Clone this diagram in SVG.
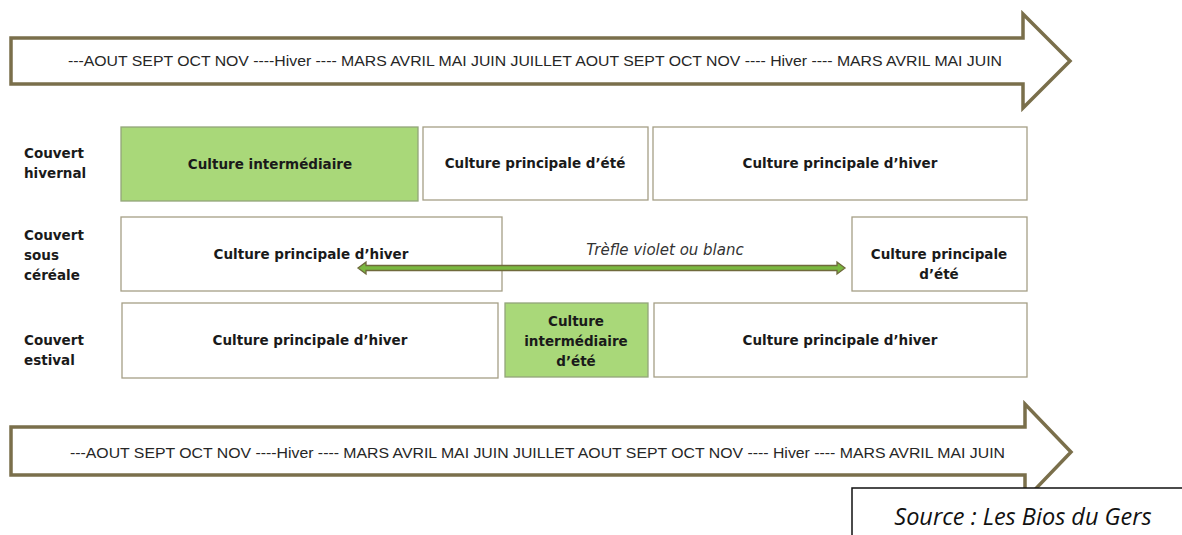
<svg xmlns="http://www.w3.org/2000/svg" width="1182" height="535" viewBox="0 0 1182 535">
<style>
.arrow{fill:#fff;stroke:#7a6f4b;stroke-width:3.5;stroke-linejoin:miter}
.tl{font-family:"Liberation Sans",Arial,sans-serif;font-size:14px;fill:#262626}
.box{fill:#fff;stroke:#a59f86;stroke-width:1.3}
.green{fill:#a9d879;stroke:#93a57a;stroke-width:1.3}
.bt{font-family:"DejaVu Sans",Verdana,sans-serif;font-size:13.5px;font-weight:bold;fill:#1a1a1a;text-anchor:middle}
.rl{font-family:"DejaVu Sans",Verdana,sans-serif;font-size:13.5px;font-weight:bold;fill:#1a1a1a}
.it{font-family:"DejaVu Sans",Verdana,sans-serif;font-size:15px;font-style:italic;fill:#333;text-anchor:middle}
.src{font-family:"Open Sans","Liberation Sans",sans-serif;font-size:23.5px;font-style:italic;fill:#111;text-anchor:middle}
</style>
<rect width="1182" height="535" fill="#fff"/>
<g id="timeline-top">
<polygon class="arrow" points="11,38 1023,38 1023,14 1070,61 1023,108 1023,84 11,84"/>
<text class="tl" x="68" y="66" textLength="934" lengthAdjust="spacingAndGlyphs">---AOUT SEPT OCT NOV ----Hiver ---- MARS AVRIL MAI JUIN JUILLET AOUT SEPT OCT NOV ---- Hiver ---- MARS AVRIL MAI JUIN</text>
</g>
<g id="row-labels">
<text class="rl" x="24" y="158">Couvert</text>
<text class="rl" x="24" y="178">hivernal</text>
<text class="rl" x="24" y="240">Couvert</text>
<text class="rl" x="24" y="260">sous</text>
<text class="rl" x="24" y="280">céréale</text>
<text class="rl" x="24" y="345">Couvert</text>
<text class="rl" x="24" y="365">estival</text>
</g>
<g id="n1"><rect class="green" x="121" y="127" width="297" height="74"/><text class="bt" x="270" y="169">Culture intermédiaire</text></g>
<g id="n2"><rect class="box" x="423" y="127" width="225" height="73"/><text class="bt" x="535" y="168">Culture principale d’été</text></g>
<g id="n3"><rect class="box" x="653" y="127" width="374" height="73"/><text class="bt" x="840" y="168">Culture principale d’hiver</text></g>
<g id="n4"><rect class="box" x="121" y="217" width="381" height="74"/><text class="bt" x="311" y="259">Culture principale d’hiver</text></g>
<g id="n5"><rect class="box" x="852" y="217" width="175" height="74"/><text class="bt" x="939" y="259">Culture principale</text><text class="bt" x="939" y="279">d’été</text></g>
<g id="n6"><rect class="box" x="122" y="303" width="376" height="75"/><text class="bt" x="310" y="345">Culture principale d’hiver</text></g>
<g id="n7"><rect class="green" x="505" y="303" width="143" height="74"/><text class="bt" x="576" y="326">Culture</text><text class="bt" x="576" y="346">intermédiaire</text><text class="bt" x="576" y="366">d’été</text></g>
<g id="n8"><rect class="box" x="654" y="303" width="373" height="74"/><text class="bt" x="840" y="345">Culture principale d’hiver</text></g>
<g id="connectors">
<polygon points="358,268 366,262 366,265.5 837,265.5 837,262 845,268 837,274 837,270.5 366,270.5 366,274" fill="#7ab83f" stroke="#6f6a3c" stroke-width="1.3"/>
<text class="it" x="665" y="255">Trèfle violet ou blanc</text>
</g>
<g id="timeline-bottom">
<polygon class="arrow" points="11,427 1025,427 1025,404 1071,452 1025,500 1025,475 11,475"/>
<text class="tl" x="70" y="458" textLength="935" lengthAdjust="spacingAndGlyphs">---AOUT SEPT OCT NOV ----Hiver ---- MARS AVRIL MAI JUIN JUILLET AOUT SEPT OCT NOV ---- Hiver ---- MARS AVRIL MAI JUIN</text>
</g>
<g id="source">
<path d="M852,535 L852,488 L1182,488" fill="#fff" stroke="#111" stroke-width="1.5"/>
<text class="src" x="1023" y="525">Source : Les Bios du Gers</text>
</g>
</svg>
